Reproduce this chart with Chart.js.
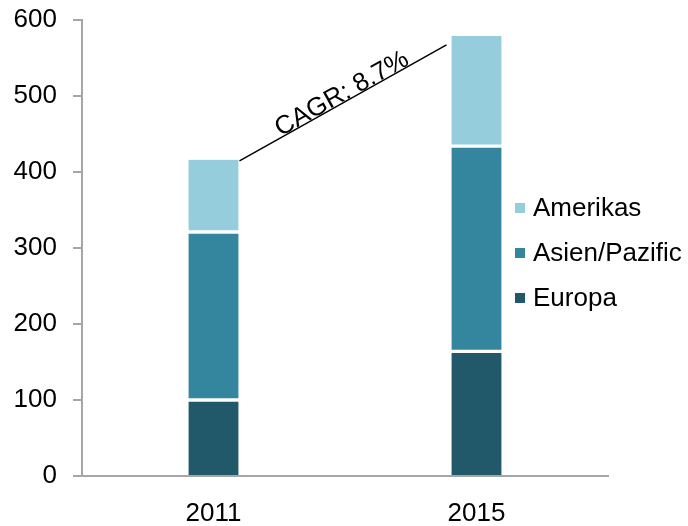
<!DOCTYPE html>
<html>
<head>
<meta charset="utf-8">
<script src="https://cdn.jsdelivr.net/npm/chart.js@4.4.1/dist/chart.umd.min.js"></script>
<style>
  html, body { margin: 0; padding: 0; background: #fff; }
  #wrap { width: 688px; height: 526px; }
</style>
</head>
<body>
<div id="wrap"><canvas id="chart" width="688" height="526"></canvas></div>
<script>
const years = ["2011", "2015"];
const europa = [100, 164];
const asien = [221, 270];
const amerikas = [95, 145];
const yTicks = [0, 100, 200, 300, 400, 500, 600];
const cagrLabel = "CAGR: 8.7%";

const colors = {
  europa: "#22596a",
  asien: "#33869e",
  amerikas: "#95cddd",
};
const axisGray = "#a6a6a6";
const font = "Liberation Sans, Arial, sans-serif";
const fontSize = 26;

// custom legend, drawn over the plot like in the original
const legendPlugin = {
  id: "sideLegend",
  afterDraw(chart) {
    const ctx = chart.ctx;
    const items = chart.data.datasets.slice().reverse();
    ctx.save();
    ctx.font = fontSize + "px " + font;
    ctx.textBaseline = "middle";
    items.forEach((ds, i) => {
      const y = 208 + i * 45;
      ctx.fillStyle = ds.backgroundColor;
      ctx.fillRect(515, y - 5, 10, 10);
      ctx.fillStyle = "#000";
      ctx.fillText(ds.label, 533, y + 1);
    });
    ctx.restore();
  },
};

// CAGR line between the bar tops
const cagrPlugin = {
  id: "cagr",
  afterDatasetsDraw(chart) {
    const ctx = chart.ctx;
    const meta = chart.getDatasetMeta(2);
    const b0 = meta.data[0], b1 = meta.data[1];
    const x0 = b0.x + b0.width / 2 + 1;
    const y0 = b0.y + 1;
    const x1 = b1.x - b1.width / 2 - 5;
    const y1 = b1.y + 9;
    ctx.save();
    ctx.strokeStyle = "#000";
    ctx.lineWidth = 1.5;
    ctx.beginPath();
    ctx.moveTo(x0, y0);
    ctx.lineTo(x1, y1);
    ctx.stroke();
    const ang = Math.atan2(y1 - y0, x1 - x0);
    const mx = (x0 + x1) / 2 + 4, my = (y0 + y1) / 2;
    ctx.translate(mx, my);
    ctx.rotate(ang);
    ctx.font = fontSize + "px " + font;
    ctx.fillStyle = "#000";
    ctx.textAlign = "center";
    ctx.textBaseline = "alphabetic";
    ctx.fillText(cagrLabel, 0, -3);
    ctx.restore();
  },
};

new Chart(document.getElementById("chart"), {
  type: "bar",
  data: {
    labels: years,
    datasets: [
      {
        label: "Europa",
        data: europa,
        backgroundColor: colors.europa,
        borderColor: "#fff",
        borderSkipped: false,
        borderWidth: { top: 2, bottom: 0, left: 0, right: 0 },
      },
      {
        label: "Asien/Pazific",
        data: asien,
        backgroundColor: colors.asien,
        borderColor: "#fff",
        borderSkipped: false,
        borderWidth: { top: 2, bottom: 2, left: 0, right: 0 },
      },
      {
        label: "Amerikas",
        data: amerikas,
        backgroundColor: colors.amerikas,
        borderColor: "#fff",
        borderSkipped: false,
        borderWidth: { top: 0, bottom: 2, left: 0, right: 0 },
      },
    ],
  },
  options: {
    responsive: false,
    animation: false,
    layout: { padding: { top: 20, right: 80, left: 0, bottom: 0 } },
    plugins: {
      legend: { display: false },
      tooltip: { enabled: false },
    },
    datasets: {
      bar: { barThickness: 50 },
    },
    scales: {
      x: {
        stacked: true,
        grid: { display: false },
        border: { display: true, color: axisGray, width: 2 },
        ticks: {
          color: "#000",
          font: { family: font, size: fontSize },
          padding: 14,
        },
        afterFit(scale) { scale.height = 50; },
      },
      y: {
        stacked: true,
        min: 0,
        max: 600,
        afterBuildTicks(scale) { scale.ticks = yTicks.map(v => ({ value: v })); },
        grid: {
          drawOnChartArea: false,
          color: axisGray,
          lineWidth: 2,
          tickLength: 9,
        },
        border: { display: true, color: axisGray, width: 2 },
        ticks: {
          color: "#000",
          font: { family: font, size: fontSize },
          padding: 16,
        },
        afterFit(scale) {
          scale.width = 82;
          scale.paddingTop = 0;
          scale.paddingBottom = 0;
        },
      },
    },
  },
  plugins: [cagrPlugin, legendPlugin],
});
</script>
</body>
</html>
